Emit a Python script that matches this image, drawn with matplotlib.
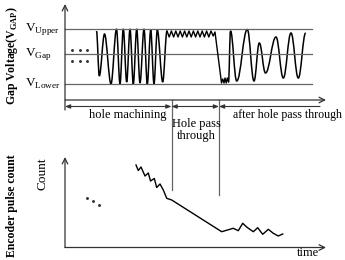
import matplotlib
matplotlib.use("Agg")
import matplotlib.pyplot as plt
from matplotlib.path import Path
from matplotlib.patches import PathPatch

plt.rcParams["font.family"] = ["Liberation Serif", "DejaVu Serif"]
plt.rcParams["mathtext.fontset"] = "custom"
plt.rcParams["mathtext.rm"] = "Liberation Serif"
plt.rcParams["mathtext.bf"] = "Liberation Serif:bold"

# diagram units = pixels of the 345x260 canvas (y grows downwards)
level_names = ["Upper", "Gap", "Lower"]
level_y = [29, 54, 84]

phase_x = [65, 171.5, 219, 320]
phase_labels = ["hole machining", "Hole pass\nthrough", "after hole pass through"]

# gap voltage extrema during hole machining
mach_t = [96.5, 99.3, 104.5, 111, 116.5, 120, 123.3, 126.7, 130, 133.3, 136.7,
          140, 144, 147.3, 150.7, 154, 157.3, 162.7, 167]
mach_v = [31, 76, 34, 84, 29, 84, 29, 82, 29, 84, 29, 83, 29, 84, 30, 84, 30, 82, 31]

# ripple while the hole passes through, then the drop
pass_t = [167, 169.2, 171.4, 173.6, 175.8, 178, 180.2, 182.4, 184.6, 186.8, 189,
          191.2, 193.4, 195.6, 197.8, 200, 202.2, 204.4, 206.6, 208.8, 211,
          213.2, 215, 221.5, 222.7, 224, 225, 226.2, 227.3, 228.5]
pass_v = [31, 37, 31, 37, 31, 37, 31, 37, 31, 37, 31, 37, 31, 37, 31, 37, 31,
          37, 31, 37, 31, 36, 32, 83, 79, 83, 78, 83, 78, 82]

# after the hole is through
after_t = [228.5, 230.5, 236.7, 247.3, 254, 259.3, 265.5, 276, 283.3, 291, 298.3, 305.7]
after_v = [82, 31, 81, 29.5, 81, 43, 73, 37, 78, 33, 78, 33]

# encoder pulse count
count_t = [136, 138.3, 141, 145, 148.3, 150.5, 154.3, 156.7, 160, 163.3, 166.7,
           171.7, 221.7, 233.3, 238.3, 242.7, 247, 253.3, 257.7, 262.7, 268.3,
           273.3, 278.3, 282.7]
count_v = [165, 170.5, 167, 176, 173, 181, 178.5, 187.5, 184, 190, 198.3,
           200, 231.7, 228.3, 230.7, 223.3, 227.3, 231.7, 227.7, 234.3, 229.3,
           233.3, 236, 234]

AX_C = "#333333"
REF_C = "#666666"


def smooth_wave(ax, xs, ys, k=0.4, **kw):
    verts = [(xs[0], ys[0])]
    codes = [Path.MOVETO]
    for x0, y0, x1, y1 in zip(xs[:-1], ys[:-1], xs[1:], ys[1:]):
        d = (x1 - x0) * k
        verts += [(x0 + d, y0), (x1 - d, y1), (x1, y1)]
        codes += [Path.CURVE4] * 3
    ax.add_patch(PathPatch(Path(verts, codes), fill=False, **kw))


fig = plt.figure(figsize=(3.45, 2.6), dpi=100)
ax = fig.add_axes([0, 0, 1, 1])
ax.set_xlim(0, 345)
ax.set_ylim(260, 0)
ax.axis("off")

# ---- top panel: gap voltage ----
ax.annotate("", xy=(65, 4), xytext=(65, 110),
            arrowprops=dict(arrowstyle="->", color=AX_C, lw=0.9, shrinkA=0, shrinkB=0))
ax.annotate("", xy=(326, 100), xytext=(65, 100),
            arrowprops=dict(arrowstyle="->", color=AX_C, lw=0.9, shrinkA=0, shrinkB=0))
for name, y in zip(level_names, level_y):
    ax.plot([65, 312], [y, y], color=REF_C, lw=0.9)
    ax.text(25, y, "V$_{\\mathrm{%s}}$" % name, fontsize=9.5, va="center", ha="left")

for y in (50, 61):
    ax.plot([72, 79.5, 87], [y] * 3, ls="none", marker="o", ms=1.1, color="#333333")

smooth_wave(ax, mach_t, mach_v, k=0.35, color="black", lw=1.1)
ax.plot(pass_t, pass_v, color="black", lw=1.0)
smooth_wave(ax, after_t, after_v, k=0.4, color="black", lw=1.1)

# phase dimension line
for x0, x1 in [(phase_x[0], phase_x[1]), (phase_x[1], phase_x[2])]:
    ax.annotate("", xy=(x1, 106.5), xytext=(x0, 106.5),
                arrowprops=dict(arrowstyle="<|-|>,head_length=0.3,head_width=0.12",
                                color=AX_C, lw=0.8, shrinkA=0, shrinkB=0))
ax.annotate("", xy=(phase_x[2], 106.5), xytext=(phase_x[3], 106.5),
            arrowprops=dict(arrowstyle="-|>,head_length=0.3,head_width=0.12",
                            color=AX_C, lw=0.8, shrinkA=0, shrinkB=0))
ax.plot([phase_x[1], phase_x[1]], [100, 190], color=REF_C, lw=0.9)
ax.plot([phase_x[2], phase_x[2]], [100, 195], color=REF_C, lw=0.9)

ax.text(128, 115, phase_labels[0], fontsize=9, ha="center", va="center")
ax.text(196, 130, phase_labels[1], fontsize=9, ha="center", va="center",
        linespacing=1.0)
ax.text(233, 115, phase_labels[2], fontsize=8.6, ha="left", va="center")

ax.text(12, 56, "Gap Voltage(V$_{\\mathbf{GAP}}$)", fontsize=8.5, fontweight="bold",
        rotation=90, ha="center", va="center")

# ---- bottom panel: encoder pulse count ----
ax.annotate("", xy=(65, 157), xytext=(65, 247.5),
            arrowprops=dict(arrowstyle="->", color=AX_C, lw=0.9, shrinkA=0, shrinkB=0))
ax.annotate("", xy=(326, 247.5), xytext=(65, 247.5),
            arrowprops=dict(arrowstyle="->", color=AX_C, lw=0.9, shrinkA=0, shrinkB=0))
ax.plot([87, 93, 99], [197.5, 201, 205], ls="none", marker="o", ms=1.1, color="#333333")
ax.plot(count_t, count_v, color="black", lw=1.0)

ax.text(43, 174, "Count", fontsize=9.5, rotation=90, ha="center", va="center")
ax.text(12, 206, "Encoder pulse count", fontsize=8.5, fontweight="bold",
        rotation=90, ha="center", va="center")
ax.text(297, 259.5, "time", fontsize=9, ha="left", va="bottom")

fig.savefig("out.png", dpi=100)
